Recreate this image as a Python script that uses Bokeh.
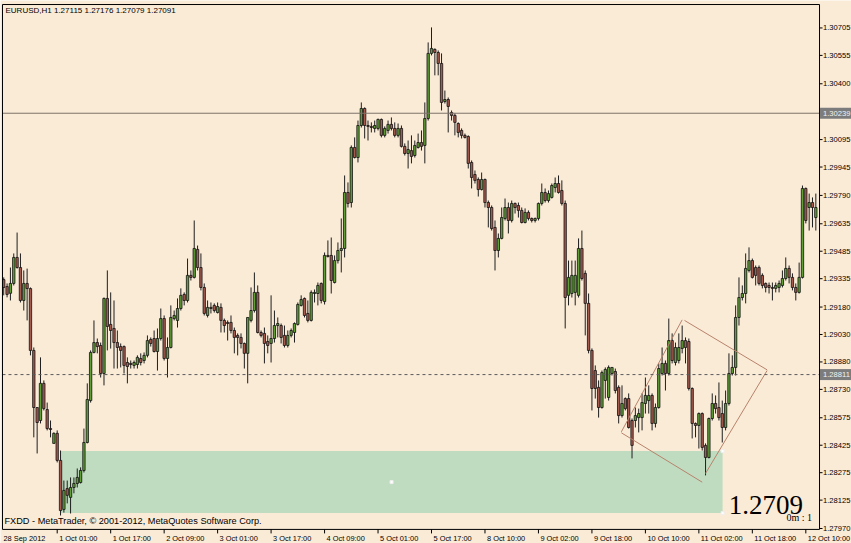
from bokeh.plotting import figure
from bokeh.models import Range1d, ColumnDataSource
from bokeh.core.properties import value
from bokeh.embed import file_html
from bokeh.resources import INLINE

# ---------------- data (EURUSD H1) ----------------
open_ = [1.29330, 1.29292, 1.29255, 1.29309, 1.29451, 1.29396, 1.29216, 1.29309, 1.29281, 1.28943,
         1.28631, 1.28560, 1.28763, 1.28620, 1.28516, 1.28435, 1.28490, 1.28342, 1.28074, 1.28188,
         1.28140, 1.28194, 1.28216, 1.28221, 1.28287, 1.28440, 1.28669, 1.28932, 1.28986, 1.28970,
         1.28817, 1.29227, 1.29085, 1.29063, 1.28986, 1.28964, 1.28964, 1.28877, 1.28872, 1.28861,
         1.28866, 1.28899, 1.28888, 1.28916, 1.29003, 1.29008, 1.28937, 1.29008, 1.29117, 1.28899,
         1.28959, 1.29117, 1.29107, 1.29172, 1.29249, 1.29216, 1.29353, 1.29342, 1.29495, 1.29396,
         1.29287, 1.29134, 1.29178, 1.29189, 1.29150, 1.29178, 1.29107, 1.29096, 1.29096, 1.29052,
         1.29025, 1.29014, 1.28981, 1.28927, 1.29107, 1.29161, 1.29260, 1.29041, 1.29036, 1.28992,
         1.28981, 1.29008, 1.29079, 1.29079, 1.29025, 1.28970, 1.29025, 1.29041, 1.29085, 1.29189,
         1.29227, 1.29145, 1.29107, 1.29254, 1.29254, 1.29309, 1.29210, 1.29462, 1.29462, 1.29314,
         1.29434, 1.29489, 1.29500, 1.29806, 1.29751, 1.30052, 1.29997, 1.30172, 1.30265, 1.30172,
         1.30167, 1.30156, 1.30156, 1.30205, 1.30118, 1.30145, 1.30178, 1.30156, 1.30118, 1.30156,
         1.30058, 1.30019, 1.30035, 1.30008, 1.30052, 1.30079, 1.30063, 1.30210, 1.30566, 1.30588,
         1.30571, 1.30511, 1.30303, 1.30314, 1.30243, 1.30227, 1.30183, 1.30145, 1.30118, 1.30112,
         1.29970, 1.29904, 1.29877, 1.29822, 1.29877, 1.29751, 1.29724, 1.29615, 1.29489, 1.29555,
         1.29664, 1.29724, 1.29653, 1.29746, 1.29735, 1.29708, 1.29642, 1.29697, 1.29664, 1.29653,
         1.29664, 1.29746, 1.29806, 1.29762, 1.29779, 1.29833, 1.29855, 1.29817, 1.29746, 1.29244,
         1.29254, 1.29260, 1.29244, 1.29500, 1.29364, 1.29200, 1.28943, 1.28833, 1.28741, 1.28631,
         1.28779, 1.28686, 1.28817, 1.28828, 1.28741, 1.28587, 1.28680, 1.28680, 1.28560, 1.28560,
         1.28576, 1.28576, 1.28653, 1.28669, 1.28697, 1.28544, 1.28631, 1.28817, 1.28872, 1.28817,
         1.28997, 1.28877, 1.28888, 1.28954, 1.28997, 1.28992, 1.28735, 1.28544, 1.28533, 1.28598,
         1.28424, 1.28358, 1.28571, 1.28653, 1.28631, 1.28598, 1.28522, 1.28653, 1.28817, 1.28850,
         1.29123, 1.29232, 1.29254, 1.29380, 1.29434, 1.29396, 1.29396, 1.29353, 1.29309, 1.29298,
         1.29287, 1.29282, 1.29287, 1.29298, 1.29336, 1.29391, 1.29342, 1.29287, 1.29260, 1.29342,
         1.29828, 1.29724, 1.29751, 1.29669]
high = [1.29342, 1.29309, 1.29396, 1.29473, 1.29587, 1.29473, 1.29380, 1.29390, 1.29287, 1.28959,
        1.28631, 1.28905, 1.28779, 1.28658, 1.28560, 1.28495, 1.28506, 1.28396, 1.28232, 1.28232,
        1.28249, 1.28249, 1.28298, 1.28304, 1.28516, 1.28763, 1.28943, 1.29107, 1.29008, 1.28986,
        1.29232, 1.29380, 1.29260, 1.29216, 1.29052, 1.28981, 1.28970, 1.28905, 1.28888, 1.28888,
        1.28916, 1.28927, 1.28932, 1.29025, 1.29014, 1.29052, 1.29063, 1.29172, 1.29134, 1.29014,
        1.29189, 1.29161, 1.29227, 1.29282, 1.29260, 1.29445, 1.29380, 1.29653, 1.29516, 1.29473,
        1.29309, 1.29216, 1.29205, 1.29200, 1.29205, 1.29200, 1.29117, 1.29107, 1.29134, 1.29068,
        1.29036, 1.29036, 1.28986, 1.29123, 1.29287, 1.29369, 1.29298, 1.29052, 1.29068, 1.29025,
        1.29244, 1.29161, 1.29123, 1.29090, 1.29079, 1.29052, 1.29063, 1.29096, 1.29205, 1.29244,
        1.29232, 1.29216, 1.29271, 1.29276, 1.29314, 1.29314, 1.29478, 1.29544, 1.29560, 1.29462,
        1.29533, 1.29664, 1.29899, 1.29861, 1.30063, 1.30107, 1.30199, 1.30298, 1.30271, 1.30199,
        1.30189, 1.30199, 1.30210, 1.30210, 1.30167, 1.30199, 1.30216, 1.30189, 1.30183, 1.30172,
        1.30074, 1.30090, 1.30118, 1.30090, 1.30128, 1.30145, 1.30298, 1.30626, 1.30708, 1.30593,
        1.30582, 1.30566, 1.30363, 1.30325, 1.30254, 1.30238, 1.30189, 1.30156, 1.30128, 1.30118,
        1.29981, 1.29926, 1.29888, 1.29915, 1.29882, 1.29762, 1.29735, 1.29653, 1.29582, 1.29724,
        1.29773, 1.29751, 1.29762, 1.29751, 1.29751, 1.29724, 1.29719, 1.29708, 1.29669, 1.29669,
        1.29751, 1.29855, 1.29828, 1.29817, 1.29855, 1.29888, 1.29899, 1.29872, 1.29762, 1.29434,
        1.29434, 1.29434, 1.29555, 1.29598, 1.29380, 1.29254, 1.28954, 1.28861, 1.28779, 1.28833,
        1.28850, 1.28861, 1.28850, 1.28844, 1.28752, 1.28752, 1.28686, 1.28708, 1.28571, 1.28631,
        1.28625, 1.28708, 1.28795, 1.28752, 1.28708, 1.28653, 1.28872, 1.28959, 1.28888, 1.29117,
        1.29036, 1.28986, 1.29036, 1.29079, 1.29014, 1.29008, 1.28741, 1.28549, 1.28604, 1.28604,
        1.28435, 1.28576, 1.28708, 1.28697, 1.28768, 1.28669, 1.28724, 1.28927, 1.28916, 1.29189,
        1.29342, 1.29298, 1.29473, 1.29506, 1.29445, 1.29407, 1.29407, 1.29364, 1.29314, 1.29314,
        1.29314, 1.29314, 1.29325, 1.29380, 1.29451, 1.29407, 1.29364, 1.29309, 1.29423, 1.29844,
        1.29833, 1.29800, 1.29779, 1.29800]
low = [1.29244, 1.29233, 1.29216, 1.29298, 1.29390, 1.29205, 1.29161, 1.29107, 1.28916, 1.28468,
       1.28380, 1.28544, 1.28615, 1.28506, 1.28468, 1.28435, 1.28331, 1.28041, 1.28057, 1.28107,
       1.28052, 1.28162, 1.28194, 1.28216, 1.28276, 1.28435, 1.28658, 1.28927, 1.28927, 1.28795,
       1.28752, 1.28943, 1.28953, 1.28844, 1.28844, 1.28850, 1.28817, 1.28763, 1.28844, 1.28844,
       1.28844, 1.28861, 1.28872, 1.28905, 1.28964, 1.28932, 1.28833, 1.28997, 1.28888, 1.28795,
       1.28954, 1.29107, 1.29068, 1.29161, 1.29189, 1.29205, 1.29325, 1.29336, 1.29380, 1.29271,
       1.29134, 1.29123, 1.29145, 1.29150, 1.29145, 1.29041, 1.29041, 1.28997, 1.29036, 1.28927,
       1.28916, 1.28954, 1.28844, 1.28763, 1.29096, 1.29150, 1.29036, 1.29014, 1.28872, 1.28927,
       1.28877, 1.28986, 1.29014, 1.28981, 1.28959, 1.28959, 1.29014, 1.28986, 1.29079, 1.29183,
       1.29123, 1.29096, 1.29101, 1.29205, 1.29189, 1.29200, 1.29194, 1.29451, 1.29254, 1.29309,
       1.29418, 1.29369, 1.29451, 1.29724, 1.29724, 1.29992, 1.29970, 1.30161, 1.30101, 1.30090,
       1.30134, 1.30134, 1.30145, 1.30107, 1.30107, 1.30128, 1.30145, 1.30107, 1.30107, 1.30052,
       1.30008, 1.29937, 1.29965, 1.29997, 1.30046, 1.30035, 1.29965, 1.30199, 1.30555, 1.30446,
       1.30446, 1.30254, 1.30292, 1.30134, 1.30199, 1.30118, 1.30107, 1.30101, 1.30101, 1.29937,
       1.29828, 1.29855, 1.29784, 1.29817, 1.29724, 1.29615, 1.29598, 1.29380, 1.29451, 1.29550,
       1.29653, 1.29582, 1.29642, 1.29691, 1.29669, 1.29637, 1.29637, 1.29653, 1.29642, 1.29642,
       1.29653, 1.29735, 1.29751, 1.29751, 1.29773, 1.29806, 1.29800, 1.29735, 1.29063, 1.29189,
       1.29232, 1.29189, 1.29232, 1.29325, 1.29025, 1.28927, 1.28615, 1.28680, 1.28576, 1.28625,
       1.28680, 1.28669, 1.28806, 1.28708, 1.28544, 1.28576, 1.28615, 1.28516, 1.28353, 1.28522,
       1.28495, 1.28506, 1.28598, 1.28598, 1.28506, 1.28522, 1.28625, 1.28806, 1.28724, 1.28806,
       1.28872, 1.28861, 1.28872, 1.28927, 1.28872, 1.28724, 1.28462, 1.28468, 1.28407, 1.28396,
       1.28260, 1.28353, 1.28560, 1.28598, 1.28560, 1.28440, 1.28506, 1.28642, 1.28806, 1.28806,
       1.29079, 1.29216, 1.29200, 1.29369, 1.29336, 1.29298, 1.29298, 1.29282, 1.29260, 1.29254,
       1.29216, 1.29260, 1.29260, 1.29287, 1.29325, 1.29309, 1.29271, 1.29216, 1.29254, 1.29336,
       1.29637, 1.29598, 1.29615, 1.29598]
close = [1.29287, 1.29249, 1.29309, 1.29451, 1.29396, 1.29216, 1.29309, 1.29281, 1.28943, 1.28631,
         1.28549, 1.28763, 1.28625, 1.28516, 1.28511, 1.28490, 1.28342, 1.28068, 1.28178, 1.28151,
         1.28194, 1.28216, 1.28249, 1.28287, 1.28440, 1.28675, 1.28932, 1.28986, 1.28964, 1.28817,
         1.29227, 1.29074, 1.29052, 1.28986, 1.28959, 1.28943, 1.28861, 1.28855, 1.28866, 1.28877,
         1.28905, 1.28877, 1.28916, 1.28997, 1.28981, 1.28937, 1.29008, 1.29117, 1.28899, 1.28959,
         1.29123, 1.29134, 1.29172, 1.29244, 1.29216, 1.29353, 1.29342, 1.29500, 1.29396, 1.29287,
         1.29145, 1.29178, 1.29172, 1.29161, 1.29183, 1.29107, 1.29079, 1.29090, 1.29052, 1.29014,
         1.29014, 1.28981, 1.28927, 1.29123, 1.29161, 1.29260, 1.29041, 1.29025, 1.28981, 1.28970,
         1.29008, 1.29079, 1.29090, 1.29014, 1.28970, 1.29025, 1.29052, 1.29090, 1.29194, 1.29221,
         1.29134, 1.29107, 1.29260, 1.29260, 1.29298, 1.29216, 1.29462, 1.29456, 1.29325, 1.29434,
         1.29489, 1.29500, 1.29806, 1.29746, 1.30052, 1.29997, 1.30172, 1.30265, 1.30172, 1.30167,
         1.30161, 1.30172, 1.30205, 1.30118, 1.30156, 1.30178, 1.30156, 1.30118, 1.30156, 1.30058,
         1.30019, 1.30041, 1.30003, 1.30063, 1.30079, 1.30058, 1.30210, 1.30566, 1.30593, 1.30571,
         1.30511, 1.30298, 1.30314, 1.30276, 1.30227, 1.30189, 1.30134, 1.30118, 1.30107, 1.29965,
         1.29888, 1.29872, 1.29822, 1.29877, 1.29751, 1.29724, 1.29609, 1.29489, 1.29555, 1.29669,
         1.29724, 1.29653, 1.29746, 1.29724, 1.29708, 1.29642, 1.29697, 1.29664, 1.29653, 1.29664,
         1.29746, 1.29806, 1.29762, 1.29800, 1.29844, 1.29855, 1.29806, 1.29746, 1.29232, 1.29342,
         1.29353, 1.29353, 1.29500, 1.29336, 1.29200, 1.28943, 1.28735, 1.28735, 1.28631, 1.28822,
         1.28839, 1.28850, 1.28850, 1.28724, 1.28587, 1.28653, 1.28625, 1.28522, 1.28424, 1.28587,
         1.28598, 1.28658, 1.28697, 1.28697, 1.28544, 1.28631, 1.28844, 1.28872, 1.28817, 1.28997,
         1.28888, 1.28959, 1.28959, 1.28997, 1.28959, 1.28735, 1.28544, 1.28533, 1.28598, 1.28413,
         1.28358, 1.28571, 1.28653, 1.28625, 1.28576, 1.28522, 1.28653, 1.28817, 1.28850, 1.29123,
         1.29232, 1.29254, 1.29391, 1.29434, 1.29342, 1.29353, 1.29309, 1.29298, 1.29287, 1.29287,
         1.29282, 1.29298, 1.29309, 1.29336, 1.29391, 1.29342, 1.29287, 1.29260, 1.29342, 1.29828,
         1.29653, 1.29751, 1.29724, 1.29724]

price_ticks = [1.30705, 1.30555, 1.30400, 1.30095, 1.29945, 1.29790, 1.29635, 1.29485, 1.29335,
               1.29180, 1.29030, 1.28880, 1.28730, 1.28575, 1.28425, 1.28275, 1.28125, 1.27970]
time_tick_bars = [16, 32, 48, 64, 80, 96, 112, 128, 144, 160, 176, 192, 208, 224, 240]
time_tick_labels = ["1 Oct 01:00", "1 Oct 17:00", "2 Oct 09:00", "3 Oct 01:00", "3 Oct 17:00",
                    "4 Oct 09:00", "5 Oct 01:00", "5 Oct 17:00", "8 Oct 10:00", "9 Oct 02:00",
                    "9 Oct 18:00", "10 Oct 10:00", "11 Oct 02:00", "11 Oct 18:00", "12 Oct 10:00"]
first_date_label = "28 Sep 2012"

caption = "EURUSD,H1  1.27115 1.27176 1.27079 1.27091"
copyright_text = "FXDD - MetaTrader, \u00a9 2001-2012, MetaQuotes Software Corp."
bid_text = "1.2709"
timer_text = "0m : 1"

hline_price = 1.30239
bid_line_price = 1.28811

zone_left, zone_right = 17.0, 215.1
zone_top, zone_bottom = 1.28393, 1.28054

chan_x0 = [184.8, 203.7, 228.4, 184.8]
chan_y0 = [1.28498, 1.29107, 1.28833, 1.28493]
chan_x1 = [203.0, 228.4, 210.0, 209.0]
chan_y1 = [1.29110, 1.28837, 1.28271, 1.28223]

# ---------------- layout (MetaTrader window geometry) ----------------
BG = "#FAEBD7"
BULL = "#5f9f36"
BEAR = "#a65a4e"
FONT = "Liberation Sans"

W, H = 851, 543
XR = (-0.966, 253.67)          # whole window, in bar units
YR = (1.27888, 1.30855)        # whole window, in price units
PX = (XR[1] - XR[0]) / W       # bar units per pixel
PY = (YR[1] - YR[0]) / H       # price units per pixel

CH_L, CH_R = -0.368, 244.1     # chart frame (bars)
CH_T, CH_B = 1.30833, 1.27965  # chart frame (price)

p = figure(width=W, height=H, x_range=Range1d(*XR), y_range=Range1d(*YR),
           output_backend="svg", toolbar_location=None,
           x_axis_location=None, y_axis_location=None,
           min_border=0, min_border_left=0, min_border_right=0,
           min_border_top=0, min_border_bottom=0,
           background_fill_color=BG, border_fill_color=BG, outline_line_color=None)
p.xgrid.grid_line_color = None
p.ygrid.grid_line_color = None

# rectangle zone (drawn as background object)
p.quad(left=[zone_left], right=[zone_right], top=[zone_top], bottom=[zone_bottom],
       fill_color="#C0DCC0", line_color=None)

# candles
bars = list(range(len(close)))
bull_idx = [i for i in bars if close[i] >= open_[i]]
bear_idx = [i for i in bars if close[i] < open_[i]]

p.segment(x0=bars, y0=low, x1=bars, y1=high, line_color="#1e1e1e", line_width=1)
src_bull = ColumnDataSource(dict(x=bull_idx,
                                 top=[close[i] for i in bull_idx],
                                 bottom=[open_[i] for i in bull_idx]))
src_bear = ColumnDataSource(dict(x=bear_idx,
                                 top=[open_[i] for i in bear_idx],
                                 bottom=[close[i] for i in bear_idx]))
p.vbar(x="x", top="top", bottom="bottom", width=0.7, source=src_bull,
       fill_color=BULL, line_color="#111111", line_width=0.8)
p.vbar(x="x", top="top", bottom="bottom", width=0.7, source=src_bear,
       fill_color=BEAR, line_color="#111111", line_width=0.8)

# rectangle handles
p.scatter(x=[zone_right, zone_right, (zone_left + zone_right) / 2],
          y=[zone_top, zone_bottom, (zone_top + zone_bottom) / 2],
          marker="square", size=3, fill_color="white", line_color="#eeeeee")

# channel lines
p.segment(x0=chan_x0, y0=chan_y0, x1=chan_x1, y1=chan_y1, line_color="#b8826c", line_width=1)

# horizontal lines
p.segment(x0=[CH_L], x1=[CH_R], y0=[hline_price], y1=[hline_price],
          line_color="#7d7268", line_width=1)
p.segment(x0=[CH_L], x1=[CH_R], y0=[bid_line_price], y1=[bid_line_price],
          line_color="#5a5a5a", line_width=1, line_dash="3 3")

# chart frame
p.quad(left=[CH_L], right=[CH_R], top=[CH_T], bottom=[CH_B],
       fill_color=None, line_color="black", line_width=1)

# price scale (ticks + labels to the right of the chart)
n = len(price_ticks)
p.segment(x0=[CH_R] * n, x1=[CH_R + 3 * PX] * n, y0=price_ticks, y1=price_ticks,
          line_color="black", line_width=1)
p.text(x=[CH_R + 3.5 * PX] * n, y=price_ticks, text=[f"{t:.5f}" for t in price_ticks],
       text_baseline="middle", text_align="left", text_font=value(FONT),
       text_font_size=value("7.6px"), text_color="black")

# highlighted price labels
hl = [hline_price, bid_line_price]
p.quad(left=[CH_R + 0.5 * PX] * 2, right=[XR[1]] * 2,
       top=[v + 5.5 * PY for v in hl], bottom=[v - 5.5 * PY for v in hl],
       fill_color="#7c7c7c", line_color=None)
p.text(x=[CH_R + 3.5 * PX] * 2, y=hl, text=[f"{v:.5f}" for v in hl],
       text_baseline="middle", text_align="left", text_font=value(FONT),
       text_font_size=value("7.6px"), text_color="#f2f2f2")

# time scale (ticks + labels to the right of each tick)
m = len(time_tick_bars)
p.segment(x0=time_tick_bars, x1=time_tick_bars, y0=[CH_B] * m, y1=[CH_B - 4 * PY] * m,
          line_color="black", line_width=1)
p.text(x=[t + 2.0 * PX for t in time_tick_bars] + [CH_L + 1 * PX],
       y=[CH_B - 9 * PY] * (m + 1),
       text=time_tick_labels + [first_date_label],
       text_baseline="middle", text_align="left", text_font=value(FONT),
       text_font_size=value("7.4px"), text_color="black")

# texts inside chart
p.text(x=[CH_L + 3 * PX], y=[CH_T - 5.5 * PY], text=[caption], text_baseline="middle",
       text_align="left", text_font=value(FONT), text_font_size=value("8px"),
       text_color="black")
p.text(x=[CH_L + 2 * PX], y=[CH_B + 8 * PY], text=[copyright_text], text_baseline="middle",
       text_align="left", text_font=value(FONT), text_font_size=value("9.2px"),
       text_color="black")
p.text(x=[216.96], y=[1.28096], text=[bid_text], text_baseline="alphabetic",
       text_align="left", text_font=value("Liberation Serif"),
       text_font_size=value("27px"), text_color="black")
p.text(x=[234.2], y=[1.28029], text=[timer_text], text_baseline="alphabetic",
       text_align="left", text_font=value("Liberation Serif"),
       text_font_size=value("10px"), text_color="black")

open("out.html", "w").write(file_html(p, INLINE))
